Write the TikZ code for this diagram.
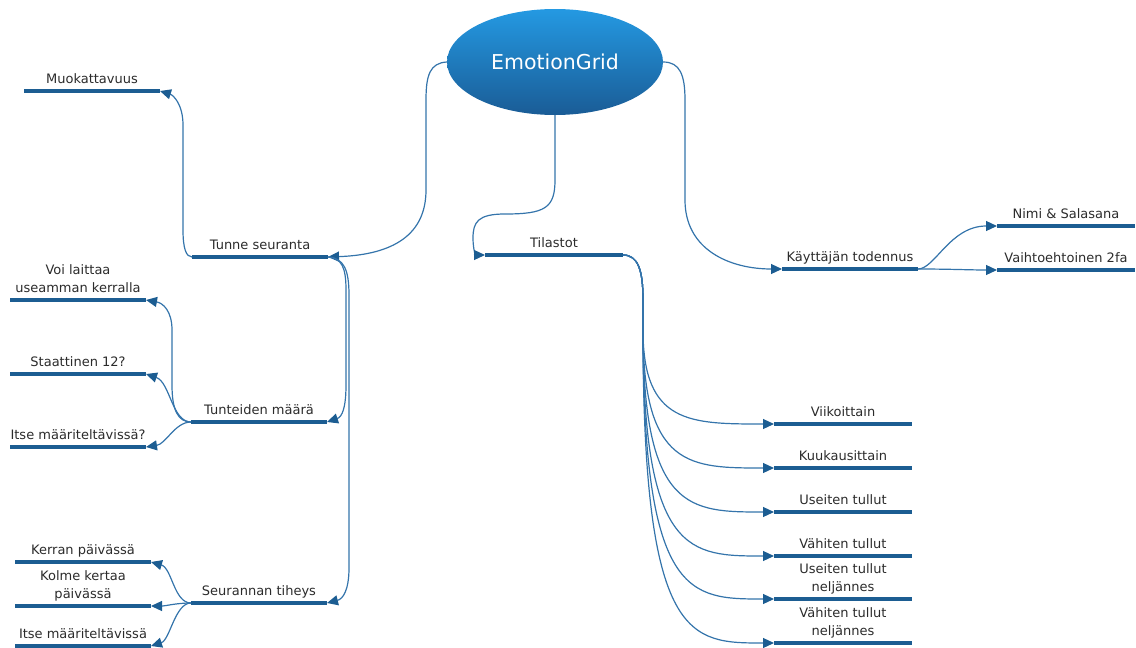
\documentclass[tikz,border=0pt]{standalone}
\usepackage{fontspec}
\setmainfont{DejaVu Sans}
\usetikzlibrary{shapes.geometric,arrows.meta}
\definecolor{barc}{HTML}{1C5D92}
\definecolor{connc}{HTML}{3474AB}
\definecolor{egtop}{HTML}{2499E2}
\definecolor{egbot}{HTML}{1A5C96}
\definecolor{txtc}{HTML}{2B2B2B}
\tikzset{
  bar/.style={fill=barc, minimum width=136pt, minimum height=4.6pt, inner sep=0pt, outer sep=0pt},
  widebar/.style={bar, minimum width=138pt},
  lbl/.style={anchor=south, inner sep=0pt, align=center, text=txtc,
    font=\fontsize{13}{17.5}\selectfont, execute at end node=\strut},
  conn/.style={draw=connc, line width=1.2pt,
    -{Triangle[length=11pt,width=10pt,color=barc]}},
}
\begin{document}
\begin{tikzpicture}[x=1pt,y=-1pt]
\useasboundingbox (0,0) rectangle (1136,648);
% central node
\node[ellipse, minimum width=216pt, minimum height=106pt, inner sep=0pt,
  top color=egtop, bottom color=egbot, draw=none,
  text=white, font=\fontsize{20.5}{23}\selectfont] (eg) at (555,62) {EmotionGrid};
% bars
\node[bar] (muok) at (92,91) {};
\node[bar] (tunne) at (260,257) {};
\node[bar] (tunmaara) at (259,422) {};
\node[bar] (seur) at (259,603) {};
\node[bar] (voi) at (78,300) {};
\node[bar] (staat) at (78,374) {};
\node[bar] (itse1) at (78,447) {};
\node[bar] (kerran) at (83,562) {};
\node[bar] (kolme) at (83,606) {};
\node[bar] (itse2) at (83,646) {};
\node[widebar] (tilastot) at (554,255) {};
\node[widebar] (viik) at (843,424) {};
\node[widebar] (kuuk) at (843,468) {};
\node[widebar] (useit) at (843,512) {};
\node[widebar] (vahit) at (843,556) {};
\node[widebar] (useitn) at (843,599) {};
\node[widebar] (vahitn) at (843,643) {};
\node[bar] (kay) at (850,269) {};
\node[widebar] (nimi) at (1066,226) {};
\node[widebar] (vaihto) at (1066,270) {};
% labels
\node[lbl] (muokT) at (muok.north) {Muokattavuus};
\node[lbl] (tunneT) at (tunne.north) {Tunne seuranta};
\node[lbl] (tunmaaraT) at (tunmaara.north) {Tunteiden määrä};
\node[lbl] (seurT) at (seur.north) {Seurannan tiheys};
\node[lbl] (voiT) at (voi.north) {Voi laittaa\\useamman kerralla};
\node[lbl] (staatT) at (staat.north) {Staattinen 12?};
\node[lbl] (itse1T) at (itse1.north) {Itse määriteltävissä?};
\node[lbl] (kerranT) at (kerran.north) {Kerran päivässä};
\node[lbl] (kolmeT) at (kolme.north) {Kolme kertaa\\päivässä};
\node[lbl] (itse2T) at (itse2.north) {Itse määriteltävissä};
\node[lbl] (tilastotT) at (tilastot.north) {Tilastot};
\node[lbl] (viikT) at (viik.north) {Viikoittain};
\node[lbl] (kuukT) at (kuuk.north) {Kuukausittain};
\node[lbl] (useitT) at (useit.north) {Useiten tullut};
\node[lbl] (vahitT) at (vahit.north) {Vähiten tullut};
\node[lbl] (useitnT) at (useitn.north) {Useiten tullut\\neljännes};
\node[lbl] (vahitnT) at (vahitn.north) {Vähiten tullut\\neljännes};
\node[lbl] (kayT) at (kay.north) {Käyttäjän todennus};
\node[lbl] (nimiT) at (nimi.north) {Nimi \& Salasana};
\node[lbl] (vaihtoT) at (vaihto.north) {Vaihtoehtoinen 2fa};
% connectors from the centre
\draw[conn] (eg.west) .. controls (430,63) and (426,75) .. (426,100) -- (426,190)
  .. controls (426,240) and (385,255) .. (tunne.east);
\draw[conn] (eg.south) -- (555,180) .. controls (555,208) and (545,214) .. (505,214)
  .. controls (478,214) and (473,222) .. (473,238) .. controls (473,250) and (476,255) .. (tilastot.west);
\draw[conn] (eg.east) .. controls (680,62) and (685,75) .. (685,100) -- (685,200)
  .. controls (685,250) and (730,269) .. (kay.west);
% Tunne seuranta
\draw[conn] (tunne.west) .. controls (186,257) and (183,248) .. (183,230) -- (183,125)
  .. controls (183,104) and (173,95) .. (muok.east);
\draw[conn] (tunne.east) .. controls (342,258) and (346,268) .. (346,290) -- (346,385)
  .. controls (346,408) and (342,417) .. (tunmaara.east);
\draw[conn] (tunne.east) .. controls (344,258) and (349,270) .. (349,295) -- (349,568)
  .. controls (349,590) and (343,599) .. (seur.east);
% Tunteiden maara
\draw[conn] (tunmaara.west) .. controls (178,422) and (172,410) .. (172,385) -- (172,330)
  .. controls (172,311) and (163,303) .. (voi.east);
\draw[conn] (tunmaara.west) .. controls (172,422) and (170,382) .. (staat.east);
\draw[conn] (tunmaara.west) .. controls (175,422) and (166,444) .. (itse1.east);
% Seurannan tiheys
\draw[conn] (seur.west) .. controls (174,603) and (172,568) .. (kerran.east);
\draw[conn] (seur.west) .. controls (176,603) and (166,606) .. (kolme.east);
\draw[conn] (seur.west) .. controls (175,603) and (170,640) .. (itse2.east);
% Tilastot
\foreach \c/\yy in {viik/424, kuuk/468, useit/512, vahit/556, useitn/599, vahitn/643}
  \draw[conn] (tilastot.east) .. controls (638,255) and (643,270) .. (643,300) -- (643,330)
    .. controls (643,\yy) and (690,\yy) .. (\c.west);
% Kayttajan todennus
\draw[conn] (kay.east) .. controls (935,269) and (950,226) .. (nimi.west);
\draw[conn] (kay.east) .. controls (950,269) and (970,270) .. (vaihto.west);
\end{tikzpicture}
\end{document}
